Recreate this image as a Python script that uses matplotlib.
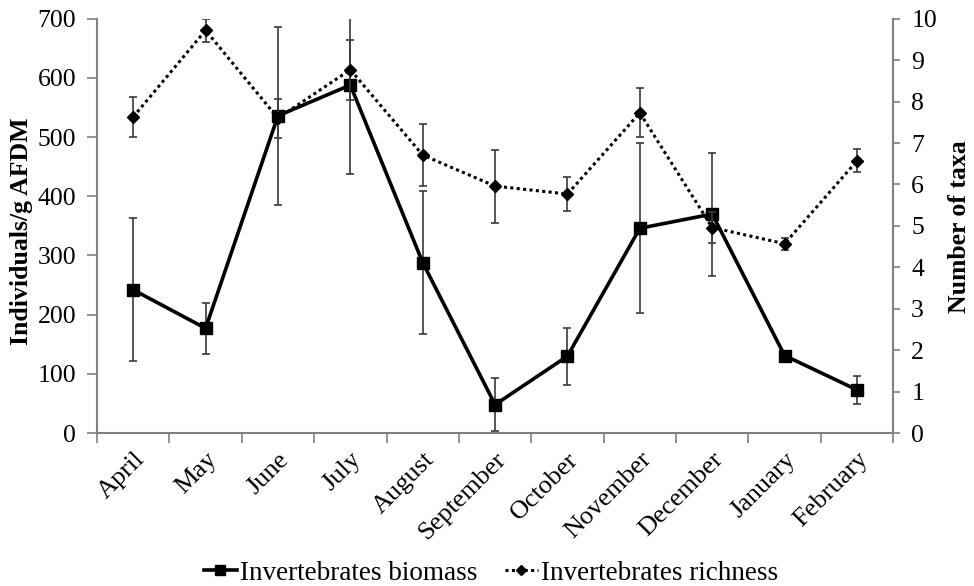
import matplotlib
matplotlib.use("Agg")
import matplotlib.pyplot as plt
import numpy as np
from matplotlib.lines import Line2D

months = ["April", "May", "June", "July", "August", "September", "October",
          "November", "December", "January", "February"]
biomass = [242, 177, 536, 588, 288, 48, 130, 346, 370, 131, 73]
biomass_err = [121, 43, 150, 150, 121, 45, 48, 144, 104, 0, 24]
richness = [7.63, 9.72, 7.6, 8.77, 6.71, 5.96, 5.77, 7.73, 4.96, 4.57, 6.57]
richness_err = [0.48, 0.27, 0.47, 0.72, 0.74, 0.88, 0.4, 0.59, 0.37, 0.15, 0.28]

plt.rcParams['font.family'] = ['Liberation Serif', 'DejaVu Serif']

fig = plt.figure(figsize=(9.74, 5.86), dpi=100)
ax = fig.add_axes([0.0996, 0.261, 0.8174, 0.707])
ax2 = ax.twinx()

x = np.arange(len(months))
gray = '#3a3a3a'
spine_gray = '#808080'

ax.errorbar(x, biomass, yerr=biomass_err, fmt='none', ecolor=gray, elinewidth=1.2,
            capsize=3, capthick=1.2, zorder=2)
ax.plot(x, biomass, color='black', lw=2.6, marker='s', ms=8, zorder=3)

ax2.errorbar(x, richness, yerr=richness_err, fmt='none', ecolor=gray, elinewidth=1.2,
             capsize=3, capthick=1.2, zorder=2)
ax2.plot(x, richness, color='black', lw=2.2, ls=(0, (1, 1.1)), marker='D', ms=6, zorder=3)

ax.set_xlim(-0.5, len(months) - 0.5)
ax.set_ylim(0, 700)
ax2.set_ylim(0, 10)
ax.set_yticks(np.arange(0, 701, 100))
ax2.set_yticks(np.arange(0, 11, 1))

ax.set_xticks(x)
ax.set_xticklabels(months, rotation=45, ha='right', rotation_mode='anchor',
                   fontsize=19)
ax.set_xticks(np.arange(-0.5, len(months), 1), minor=True)
ax.tick_params(axis='x', which='major', length=0, pad=11)
ax.tick_params(axis='x', which='minor', length=7, color=spine_gray, width=1.2)
ax.tick_params(axis='y', labelsize=18.5, length=7, color=spine_gray, width=1.2, pad=8)
ax2.tick_params(axis='y', labelsize=18.5, length=5, color=spine_gray, width=1.2, pad=8)

for a in (ax, ax2):
    a.spines['top'].set_visible(False)
    for s in ('left', 'right', 'bottom'):
        a.spines[s].set_color(spine_gray)
        a.spines[s].set_linewidth(1.5)
ax2.spines['left'].set_visible(False)
ax2.spines['bottom'].set_visible(False)
ax.spines['right'].set_visible(False)

fig.text(22 / 974, 1 - 231 / 586, "Individuals/g AFDM", rotation=90, ha='center',
         va='center', fontsize=18.5, fontweight='bold')
fig.text(960 / 974, 1 - 227 / 586, "Number of taxa", rotation=90, ha='center',
         va='center', fontsize=18.5, fontweight='bold')

handles = [Line2D([], [], color='black', lw=2.6, marker='s', ms=7),
           Line2D([], [], color='black', lw=2.2, ls=(0, (1, 1.1)), marker='D', ms=5)]
fig.legend(handles, ["Invertebrates biomass", "Invertebrates richness"],
           loc='center', bbox_to_anchor=(0.504, 1 - 573 / 586), ncol=2, frameon=False,
           fontsize=19.5, handlelength=1.25, handletextpad=0.1, columnspacing=1.0,
           borderpad=0, borderaxespad=0)

fig.savefig("out.png", dpi=100)
